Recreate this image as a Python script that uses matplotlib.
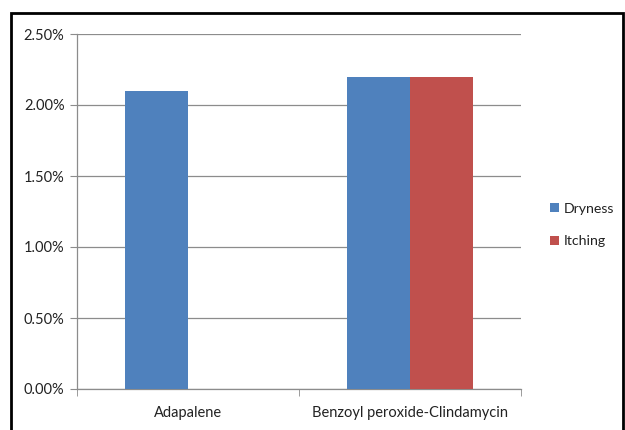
import matplotlib
matplotlib.use("Agg")
import matplotlib.pyplot as plt
from matplotlib.patches import Rectangle
from matplotlib.ticker import FuncFormatter, FixedLocator
import numpy as np

categories = ["Adapalene", "Benzoyl peroxide-Clindamycin"]
dryness = [0.021, 0.022]
itching = [0.0, 0.022]
series_names = ["Dryness", "Itching"]
yticks = [0.0, 0.005, 0.010, 0.015, 0.020, 0.025]

plt.rcParams['font.family'] = ['Lato', 'DejaVu Sans']

W, H = 625, 430
fig = plt.figure(figsize=(W/100, H/100), dpi=100)
ax = fig.add_axes([77/W, 1-389/H, (521-77)/W, (389-34)/H])

x = np.arange(len(categories))
bw = 63/221
c_dry = "#4F81BD"
c_itc = "#C0504D"
ax.bar(x - bw/2, dryness, width=bw, color=c_dry, label=series_names[0], zorder=3)
ax.bar(x + bw/2, itching, width=bw, color=c_itc, label=series_names[1], zorder=3)

ax.set_xlim(-0.5, len(categories)-0.5)
ax.set_ylim(0, 0.025)
ax.set_yticks(yticks)
ax.yaxis.set_major_formatter(FuncFormatter(lambda v, p: f"{v*100:.2f}%"))
ax.yaxis.grid(True, color="#8c8c8c", linewidth=0.9, zorder=0)
ax.set_axisbelow(True)

ax.set_xticks(x)
ax.set_xticklabels(categories)
ax.xaxis.set_minor_locator(FixedLocator(np.arange(-0.5, len(categories), 1.0)))
ax.tick_params(axis='x', which='major', length=0, pad=12.5, labelsize=10.5, colors="#222222")
ax.tick_params(axis='x', which='minor', length=5, color="#8c8c8c", direction='out')
ax.tick_params(axis='y', which='major', length=5, color="#8c8c8c", direction='out', labelsize=10.5, labelcolor="#222222", pad=4)

for s in ['top', 'right']:
    ax.spines[s].set_visible(False)
for s in ['left', 'bottom']:
    ax.spines[s].set_color("#8c8c8c")
    ax.spines[s].set_linewidth(0.9)

leg = fig.legend(loc='center left', bbox_to_anchor=(537/W, 1-225/H), frameon=False,
                 fontsize=10.2, handlelength=0.62, handleheight=0.62, handletextpad=0.35,
                 labelspacing=1.45)
for t in leg.get_texts():
    t.set_color("#222222")

fig.patches.append(Rectangle((11/W, -0.05), (623-11)/W, 1.05 - 13/H,
                             transform=fig.transFigure, fill=False,
                             edgecolor="black", linewidth=2, zorder=10))

fig.savefig("out.png", dpi=100, facecolor="white")
